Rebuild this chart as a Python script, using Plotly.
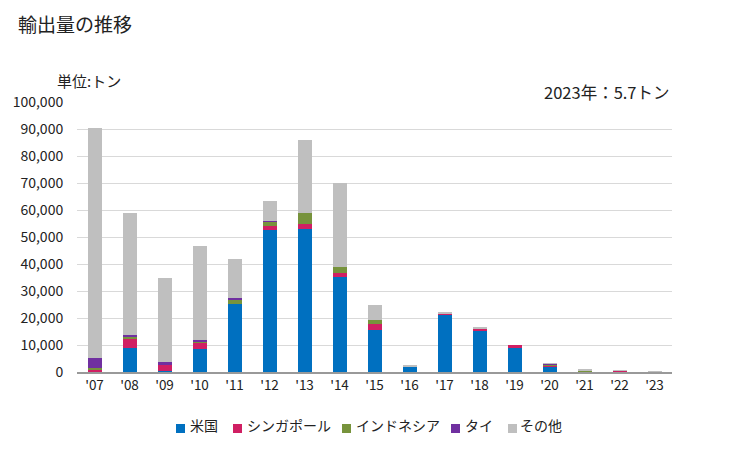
import plotly.graph_objects as go

years = ["'07", "'08", "'09", "'10", "'11", "'12", "'13", "'14", "'15", "'16", "'17", "'18", "'19", "'20", "'21", "'22", "'23"]
usa       = [100, 9000, 300, 8500, 25200, 52700, 53100, 35300, 15560, 2220, 21240, 15440, 8900, 2100, 0, 0, 0]
singapore = [740, 3200, 2350, 2600, 100, 1360, 1730, 1360, 2100, 0, 370, 490, 1100, 250, 0, 400, 0]
indonesia = [490, 740, 0, 370, 1480, 1850, 4075, 2220, 1600, 0, 0, 0, 0, 600, 400, 0, 0]
thailand  = [3950, 740, 1235, 370, 740, 100, 0, 0, 0, 0, 0, 0, 0, 300, 0, 0, 0]
others    = [85200, 45200, 30750, 34800, 14450, 7400, 27050, 31100, 5560, 370, 370, 370, 0, 80, 350, 100, 300]

names = ["米国", "シンガポール", "インドネシア", "タイ", "その他"]
colors = ["#0070C0", "#D01F63", "#77933C", "#7030A0", "#BFBFBF"]
values = [usa, singapore, indonesia, thailand, others]

# figure geometry (page body adds 8px offset)
W, H = 721, 442
L, R, T, B = 69, 57, 94, 78
PW, PH = W - L - R, H - T - B

def px(x):  # figure pixel x -> paper x
    return (x - L) / PW

def py(y):  # figure pixel y -> paper y
    return (H - B - y) / PH

fig = go.Figure()
for name, vals, color in zip(names, values, colors):
    fig.add_trace(go.Bar(x=years, y=vals, name=name, marker_color=color,
                         marker_line_width=0, width=0.4, showlegend=False))

font = "Noto Sans CJK JP"
txt = "#222222"
fig.update_layout(
    barmode="stack",
    width=W, height=H,
    margin=dict(l=L, r=R, t=T, b=B, autoexpand=False),
    paper_bgcolor="white", plot_bgcolor="white",
    font=dict(family=font, size=13, color=txt),
    title=dict(text="輸出量の推移", x=10 / W, xanchor="left", xref="container",
               y=1 - 17 / H, yanchor="middle", yref="container",
               font=dict(size=19, color=txt, family=font)),
    xaxis=dict(showgrid=False, showline=True, linecolor="#999999", linewidth=1.5,
               ticks="", tickfont=dict(size=13.5, color=txt)),
    yaxis=dict(range=[0, 100000], dtick=10000, tickformat=",d",
               showgrid=True, gridcolor="#D9D9D9", gridwidth=1,
               zeroline=False, ticks="outside", ticklen=10, tickcolor="rgba(0,0,0,0)",
               tickfont=dict(size=14, color=txt)),
    showlegend=False,
)

fig.add_annotation(text="単位:トン", xref="paper", yref="paper", x=px(47), y=py(72),
                   xanchor="left", yanchor="middle", showarrow=False,
                   font=dict(size=15, color=txt, family=font))
fig.add_annotation(text="2023年：5.7トン", xref="paper", yref="paper", x=px(664), y=py(84),
                   xanchor="right", yanchor="middle", showarrow=False,
                   font=dict(size=16.5, color=txt, family=font))

# manual legend (screen positions minus 8px body offset)
marker_x = [168, 225, 334, 443, 500]
text_x = [180, 237, 346, 455, 510]
ly = 420
for name, color, mx, tx in zip(names, colors, marker_x, text_x):
    fig.add_shape(type="rect", xref="paper", yref="paper",
                  x0=px(mx), x1=px(mx + 9), y0=py(ly - 4), y1=py(ly + 5),
                  fillcolor=color, line_width=0)
    fig.add_annotation(text=name, xref="paper", yref="paper", x=px(tx), y=py(ly - 3),
                       xanchor="left", yanchor="middle", showarrow=False,
                       font=dict(size=14, color=txt, family=font))

fig.write_html("out.html")
